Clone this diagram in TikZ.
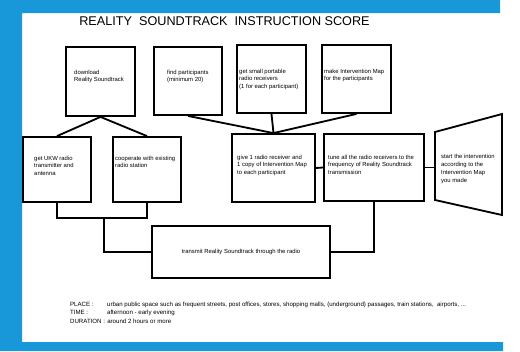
\documentclass[tikz,border=0pt]{standalone}
\usepackage{fontspec}
\setmainfont{Liberation Sans}
\usetikzlibrary{calc}
\definecolor{frameblue}{RGB}{24,152,216}

\begin{document}
\begin{tikzpicture}[x=0.5mm, y=-0.5mm,
	box/.style={draw, line width=2.6pt, inner sep=0pt},
	note/.style={anchor=north west, align=left, inner sep=0pt, font=\fontsize{8.4}{11}\selectfont},
	info/.style={anchor=base west, inner sep=0pt, font=\fontsize{8.7}{10}\selectfont},
	link/.style={line width=2.6pt}]

	\useasboundingbox (0,0) rectangle (520,351);
	\fill[white] (0,0) rectangle (520,351);
	\fill[frameblue] (0,0) -- (500,0) -- (500,13) -- (22,13) -- (22,342) -- (503,342) -- (503,351) -- (0,351) -- cycle;

	\node[font=\fontsize{18}{20}\selectfont] (title) at (224.5,21.5) {REALITY\ \ SOUNDTRACK\ \ INSTRUCTION SCORE};

	% top row
	\node[box, minimum width=34.5mm, minimum height=34.5mm] (dl) at (100.5,81.5) {};
	\node[note] (dltxt) at ($(dl.north west)+(9,23.5)$) {download\\Reality Soundtrack};

	\node[box, minimum width=34mm, minimum height=34mm] (find) at (188,81) {};
	\node[note] (findtxt) at ($(find.north west)+(14,23.5)$) {find participants\\(minimum 20)};

	\node[box, minimum width=34.5mm, minimum height=34mm] (recv) at (271.5,79) {};
	\node[note] (recvtxt) at ($(recv.north west)+(3,24.5)$) {get small portable\\radio receivers\\(1 for each participant)};

	\node[box, minimum width=34.5mm, minimum height=34mm] (map) at (356.5,79) {};
	\node[note] (maptxt) at ($(map.north west)+(3,24.5)$) {make Intervention Map\\for the participants};

	% middle row
	\node[box, minimum width=34mm, minimum height=32.5mm] (ukw) at (57,169.5) {};
	\node[note] (ukwtxt) at ($(ukw.north west)+(12,19.5)$) {get UKW radio\\transmitter and\\antenna};

	\node[box, minimum width=34mm, minimum height=32.5mm] (coop) at (147,169.5) {};
	\node[note] (cooptxt) at ($(coop.north west)+(3,19.5)$) {cooperate with existing\\radio station};

	\node[box, minimum width=41.5mm, minimum height=34mm] (give) at (273.5,168) {};
	\node[note] (givetxt) at ($(give.north west)+(6,21.5)$) {give 1 radio receiver and\\1 copy of Intervention Map\\to each participant};

	\node[box, minimum width=50mm, minimum height=33.5mm] (tune) at (374,167.5) {};
	\node[note] (tunetxt) at ($(tune.north west)+(5,21.5)$) {tune all the radio receivers to the\\frequency of Reality Soundtrack\\transmission};

	\coordinate (tz1) at (435,132);
	\coordinate (tz2) at (502,114);
	\coordinate (tz3) at (502,215);
	\coordinate (tz4) at (435,200);
	\draw[link, line join=miter] (tz1) -- (tz2) -- (tz3) -- (tz4) -- cycle;
	\node[note] (starttxt) at (441,154.5) {start the intervention\\according to the\\Intervention Map\\you made};

	% bottom box
	\node[box, minimum width=89mm, minimum height=26mm, font=\fontsize{8.4}{11}\selectfont] (send) at (241,252) {transmit Reality Soundtrack through the radio};

	% connections
	\draw[link] (ukw.north) -- (dl.south) -- (coop.north);

	\draw[link] (find.south) -- (give.north);

	\draw[link] (recv.south) -- (give.north);

	\draw[link] (map.south) -- (give.north);

	\draw[link] (give.east) -- (tune.west);

	\draw[link] (tune.east) -- (tune.east -| tz1);

	\coordinate (join) at (104,218);
	\draw[link] (ukw.south) |- (join) -| (coop.south);

	\draw[link] (join) |- (send.west);

	\draw[link] (send.east) -| (tune.south);

	% notes below
	\node[info] (place) at (70,306) {PLACE :};
	\node[info] (placev) at (107,306) {urban public space such as frequent streets, post offices, stores, shopping malls, (underground) passages, train stations,\ \ airports, ...};

	\node[info] (time) at (70,314.5) {TIME :};
	\node[info] (timev) at (107,314.5) {afternoon - early evening};

	\node[info] (dur) at (70,323) {DURATION :};
	\node[info] (durv) at ($(dur.base east)+(2,0)$) {around 2 hours or more};

\end{tikzpicture}
\end{document}
